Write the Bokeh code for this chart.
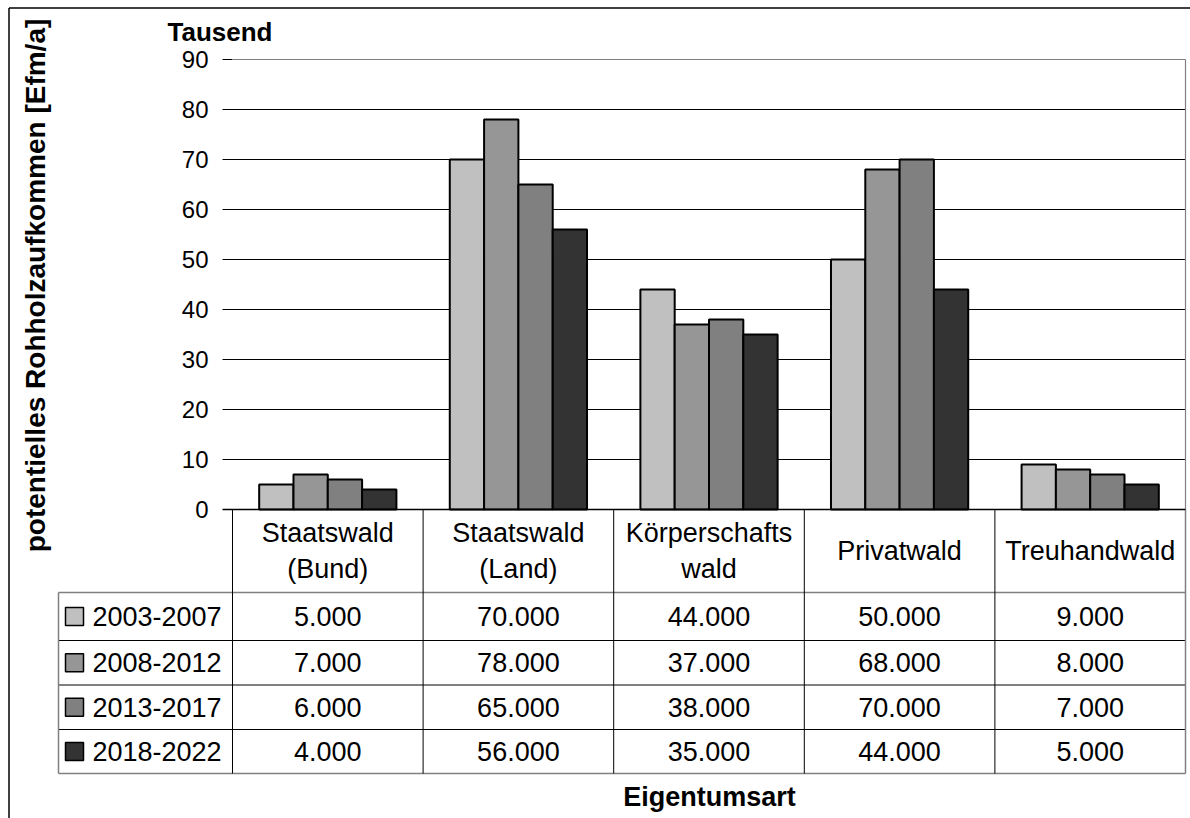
import numpy as np
from bokeh.plotting import figure
from bokeh.models import Range1d
from bokeh.embed import file_html
from bokeh.resources import INLINE
from bokeh.core.properties import value

# ---------------- data ----------------
categories = ["Staatswald\n(Bund)", "Staatswald\n(Land)", "Körperschafts\nwald", "Privatwald", "Treuhandwald"]
periods = ["2003-2007", "2008-2012", "2013-2017", "2018-2022"]
s2003_2007 = [5, 70, 44, 50, 9]      # in Tausend Efm/a
s2008_2012 = [7, 78, 37, 68, 8]
s2013_2017 = [6, 65, 38, 70, 7]
s2018_2022 = [4, 56, 35, 44, 5]
series = [s2003_2007, s2008_2012, s2013_2017, s2018_2022]
y_ticks = [0, 10, 20, 30, 40, 50, 60, 70, 80, 90]
y_title = "potentielles Rohholzaufkommen [Efm/a]"
unit_label = "Tausend"
x_title = "Eigentumsart"

# ---------------- styles ----------------
colors = ["#C0C0C0", "#969696", "#808080", "#333333"]
FONT = value("Liberation Sans")
W, H = 1190, 818
ORIGIN = 0              # page offset of the canvas
CAT_PX = 190.6          # pixel width of one category
PLOT_LEFT = 232         # page x of value axis
ZERO_Y = 509            # page y of value 0
PX_UNIT = 5.0           # pixels per 1 (Tausend)

def dx(page_x):
    return (page_x - PLOT_LEFT) / CAT_PX

def dy(page_y):
    return (ZERO_Y - page_y) / PX_UNIT

p = figure(width=W, height=H, output_backend="svg", toolbar_location=None,
           x_range=Range1d(dx(ORIGIN), dx(ORIGIN + W)), y_range=Range1d(dy(ORIGIN + H), dy(ORIGIN)),
           min_border=0, outline_line_color=None)
p.axis.visible = False
p.grid.visible = False
p.background_fill_color = "white"
p.border_fill_color = "white"

n = len(categories)
x_right = float(n)
ymax = y_ticks[-1]

# outer chart border (left and top)
p.segment(x0=[dx(8.5), dx(8.5)], y0=[dy(7.5), dy(7.5)], x1=[dx(8.5), dx(1190)], y1=[dy(818), dy(7.5)],
          line_color="black", line_width=1.5)

# gridlines and ticks
grid_y = [t for t in y_ticks if 0 < t < ymax]
p.segment(x0=[dx(222)] * len(grid_y), y0=grid_y, x1=[x_right] * len(grid_y), y1=grid_y,
          line_color="black", line_width=1)
p.segment(x0=[dx(222)], y0=[ymax], x1=[0], y1=[ymax], line_color="black", line_width=1)
# plot area border (top, right) gray
p.segment(x0=[0, x_right], y0=[ymax, ymax], x1=[x_right, x_right], y1=[ymax, 0],
          line_color="#808080", line_width=1.2)

# tick labels
p.text(x=[dx(208)] * len(y_ticks), y=y_ticks, text=[str(t) for t in y_ticks],
       text_font=FONT, text_font_size=value("24px"), text_align="right",
       text_baseline="middle", text_color="black")

# bars
bw = 0.18
for k, (vals, col) in enumerate(zip(series, colors)):
    xs = [i + 0.5 + (k - 1.5) * bw for i in range(n)]
    p.vbar(x=xs, width=bw, top=vals, bottom=0, fill_color=col,
           line_color="black", line_width=2)

# ---------------- data table ----------------
row_lines = [dy(592), dy(640), dy(684.5), dy(729), dy(773)]
left_col = dx(58)
# internal horizontal lines
p.segment(x0=[left_col] * 3, y0=row_lines[1:4], x1=[x_right] * 3, y1=row_lines[1:4],
          line_color="black", line_width=1)
# outer gray lines
p.segment(x0=[left_col, left_col, left_col, x_right],
          y0=[row_lines[0], row_lines[-1], row_lines[0], 0],
          x1=[x_right, x_right, left_col, x_right],
          y1=[row_lines[0], row_lines[-1], row_lines[-1], row_lines[-1]],
          line_color="#808080", line_width=1.5)
# vertical category separators
vx = list(range(0, n))
p.segment(x0=vx, y0=[0] * len(vx), x1=vx, y1=[row_lines[-1]] * len(vx),
          line_color="black", line_width=1)
# x axis line
p.segment(x0=[dx(222)], y0=[0], x1=[x_right], y1=[0], line_color="black", line_width=1.5)

# category headers
p.text(x=[i + 0.5 for i in range(n)], y=[(0 + row_lines[0]) / 2] * n, text=categories,
       text_font=FONT, text_font_size=value("27px"), text_align="center",
       text_baseline="middle", text_color="black", text_line_height=1.22)

# rows
row_centers = [(row_lines[r] + row_lines[r + 1]) / 2 for r in range(4)]
p.scatter(x=[dx(74)] * 4, y=row_centers, marker="square", size=18,
          fill_color=colors, line_color="black", line_width=1.5)
p.text(x=[dx(92)] * 4, y=row_centers, text=periods, text_font=FONT,
       text_font_size=value("27px"), text_align="left", text_baseline="middle",
       text_color="black")

def fmt(v):
    return f"{int(round(v * 1000)):,}".replace(",", ".")

for r, vals in enumerate(series):
    p.text(x=[i + 0.5 for i in range(n)], y=[row_centers[r]] * n,
           text=[fmt(v) for v in vals], text_font=FONT, text_font_size=value("27px"),
           text_align="center", text_baseline="middle", text_color="black")

# titles
p.text(x=[dx(167)], y=[dy(31)], text=[unit_label], text_font=FONT,
       text_font_size=value("26px"), text_font_style="bold", text_align="left",
       text_baseline="middle", text_color="black")
p.text(x=[dx(709)], y=[dy(796)], text=[x_title], text_font=FONT,
       text_font_size=value("27px"), text_font_style="bold", text_align="center",
       text_baseline="middle", text_color="black")
p.text(x=[dx(35)], y=[dy(285)], text=[y_title], text_font=FONT, angle=np.pi / 2,
       text_font_size=value("28px"), text_font_style="bold", text_align="center",
       text_baseline="middle", text_color="black")

open("out.html", "w").write(file_html(p, INLINE))
